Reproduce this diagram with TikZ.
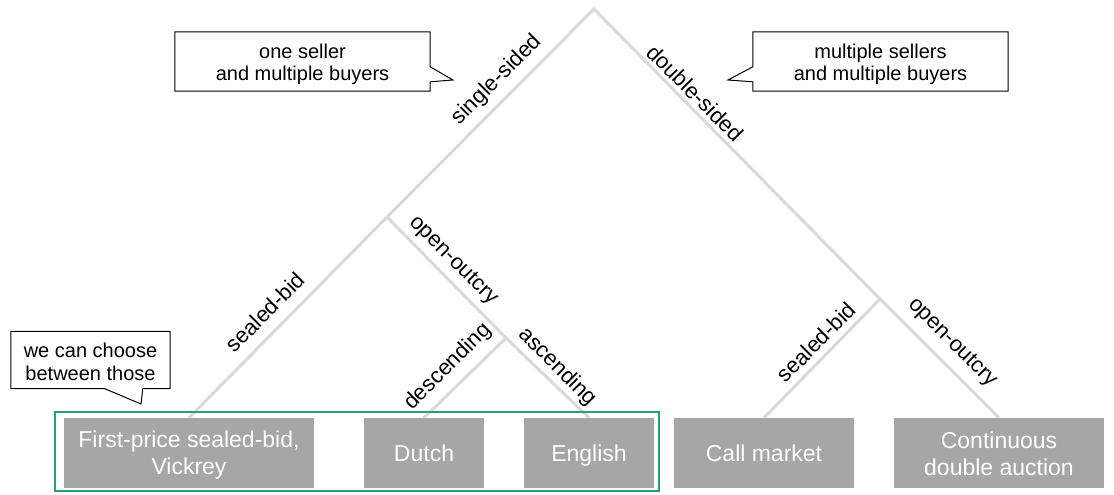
\documentclass[tikz,border=0pt]{standalone}
\usepackage{fontspec}
\setmainfont{Liberation Sans}
\definecolor{linegray}{RGB}{217,217,217}
\definecolor{boxgray}{RGB}{166,166,166}
\definecolor{frameteal}{RGB}{34,160,128}
\pgfdeclarelayer{bg}
\pgfsetlayers{bg,main}
\begin{document}
\begin{tikzpicture}[x=1pt,y=-1pt,
  branch/.style={draw=linegray,line width=3pt,line join=miter},
  leaf/.style={fill=boxgray,text=white,minimum height=70pt,inner sep=0pt,align=center,font=\fontsize{23}{27}\selectfont},
  oneline/.style={text height=16.5pt,text depth=0pt},
  blabel/.style={font=\fontsize{22}{26}\selectfont,inner sep=0pt},
  calloutxt/.style={align=center,font=\fontsize{20}{22.5}\selectfont,inner sep=0pt},
  callline/.style={draw=black,line width=1pt,line join=miter}]
\useasboundingbox (0,0) rectangle (1114,495);
% junctions
\coordinate (root) at (594,9);
\coordinate (jl) at (387,217);
\coordinate (jo) at (506,338);
\coordinate (jr) at (880,299);
% leaves
\node[leaf,minimum width=250pt] (fp) at (189,453) {};
\node[font=\fontsize{23}{27}\selectfont,text=white,align=center,inner sep=0pt] (fpt) at (189,455) {First-price sealed-bid,\\Vickrey};
\node[leaf,oneline,minimum width=120pt] (dutch) at (424,453) {Dutch};
\node[leaf,oneline,minimum width=130pt] (eng) at (589,453) {English};
\node[leaf,oneline,minimum width=180pt] (call) at (764,453) {Call market};
\node[leaf,minimum width=210pt] (cont) at (999,453) {};
\node[font=\fontsize{23}{27}\selectfont,text=white,align=center,inner sep=0pt] (contt) at (999,454) {Continuous\\double auction};
% branches
\begin{pgfonlayer}{bg}
\draw[branch] (fp.north) -- (jl) -- (root) -- (jr) -- (cont.north);
\draw[branch] (jl) -- (jo) -- (eng.north);
\draw[branch] (jo) -- (dutch.north);
\draw[branch] (jr) -- (call.north);
\end{pgfonlayer}
% frame
\draw[frameteal,line width=2pt] (55,411.5) rectangle (659,491);
% branch labels
\node[blabel,rotate=45] (lss) at (497,80) {single-sided};
\node[blabel,rotate=-45] (lds) at (695,93) {double-sided};
\node[blabel,rotate=45] (lsb) at (265,312) {sealed-bid};
\node[blabel,rotate=-45] (loo) at (453,261) {open-outcry};
\node[blabel,rotate=45] (lde) at (448,367) {descending};
\node[blabel,rotate=-45] (las) at (557,367) {ascending};
\node[blabel,rotate=45] (lsb2) at (816,342) {sealed-bid};
\node[blabel,rotate=-45] (loo2) at (952,343) {open-outcry};
% callouts
\node[minimum width=255pt,minimum height=59pt,inner sep=0pt] (c1) at (302.5,61.5) {};
\node[calloutxt] (c1t) at (302.5,64.5) {one seller\\and multiple buyers};
\coordinate (t1) at (453,80);
\draw[callline] (c1.north west) -- (c1.north east) -- ([yshift=-35pt]c1.north east) -- (t1) -- ([yshift=-50pt]c1.north east) -- (c1.south east) -- (c1.south west) -- cycle;
\node[minimum width=255pt,minimum height=59pt,inner sep=0pt] (c2) at (880.5,61.5) {};
\node[calloutxt] (c2t) at (880.5,64.5) {multiple sellers\\and multiple buyers};
\coordinate (t2) at (728,80);
\draw[callline] (c2.north east) -- (c2.north west) -- ([yshift=-35pt]c2.north west) -- (t2) -- ([yshift=-50pt]c2.north west) -- (c2.south west) -- (c2.south east) -- cycle;
\node[minimum width=159pt,minimum height=57pt,inner sep=0pt] (c3) at (90.5,360) {};
\node[calloutxt] (c3t) at (90.5,362) {we can choose\\between those};
\coordinate (t3) at (141,404);
\draw[callline] (c3.north west) -- (c3.north east) -- (c3.south east) -- ([xshift=132pt]c3.south west) -- (t3) -- ([xshift=94pt]c3.south west) -- (c3.south west) -- cycle;
\end{tikzpicture}
\end{document}
